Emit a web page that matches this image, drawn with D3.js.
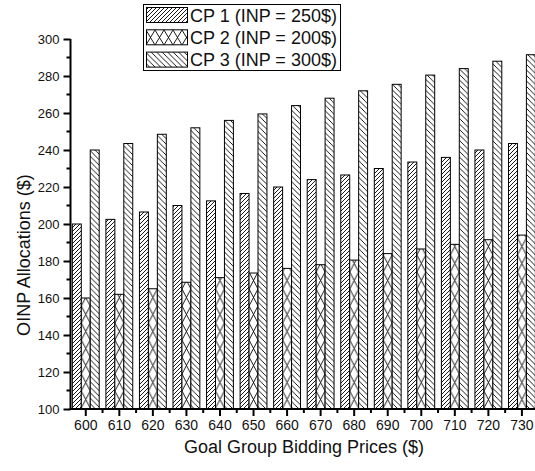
<!DOCTYPE html>
<html><head><meta charset="utf-8">
<script src="https://cdn.jsdelivr.net/npm/d3@7"></script>
<style>body{margin:0;background:#fff}svg{display:block}text{font-family:"Liberation Sans",Arial,sans-serif;fill:#111}</style>
</head><body><svg id="c" width="535" height="471"></svg>
<script>
const categories = [600,610,620,630,640,650,660,670,680,690,700,710,720,730];
const seriesNames = ["CP 1 (INP = 250$)", "CP 2 (INP = 200$)", "CP 3 (INP = 300$)"];
const cp1 = [200,202.5,206.5,210,212.5,216.5,220,224,226.5,230,233.5,236,240,243.5];
const cp2 = [160,162,165,168.5,171,173.5,176,178,180.5,184,186.5,189,191.5,194];
const cp3 = [240,243.5,248.5,252,256,259.5,264,268,272,275.5,280.5,284,288,291.5];
const yTicks = [100,120,140,160,180,200,220,240,260,280,300];
const series = [cp1, cp2, cp3];

const svg = d3.select("#c");
const defs = svg.append("defs");

const x = d3.scaleBand().domain(categories).range([69, 69 + 14*33.55]).paddingInner(0.2).paddingOuter(0.1);
const xs = d3.scaleBand().domain([0,1,2]).range([0, x.bandwidth()]);
const y = d3.scaleLinear().domain([100,300]).range([409,39]);

function hatch(id, w, h, paths, tx) {
  const p = defs.append("pattern").attr("id", id).attr("patternUnits","userSpaceOnUse")
    .attr("width", w).attr("height", h);
  if (tx !== undefined) p.attr("patternTransform", `translate(${tx},0)`);
  p.append("rect").attr("width", w).attr("height", h).attr("fill","#fff");
  paths.forEach(d => p.append("path").attr("d", d).attr("stroke","#000").attr("stroke-width",0.9).attr("fill","none"));
  return id;
}
// CP1: forward slash
hatch("p0", 4, 4, ["M-1,1 L1,-1 M0,4 L4,0 M3,5 L5,3"]);
// CP3: back slash
hatch("p2", 5.5, 5.5, ["M-1,4.5 L1,6.5 M0,0 L5.5,5.5 M4.5,-1 L6.5,1"]);

const g = svg.append("g");
series.forEach((vals, si) => {
  g.selectAll(null).data(categories).enter().append("rect")
    .attr("x", d => x(d) + xs(si))
    .attr("y", (d,i) => y(vals[i]))
    .attr("width", xs.bandwidth())
    .attr("height", (d,i) => y(100) - y(vals[i]))
    .attr("fill", (d,i) => {
      if (si === 1) {
        const bx = x(d) + xs(si);
        const bw = xs.bandwidth();
        return "url(#" + hatch("pc"+i, bw, bw*1.9, [`M0,0 L${bw},${bw*1.9} M${bw},0 L0,${bw*1.9}`], bx) + ")";
      }
      return "url(#p" + si + ")";
    })
    .attr("stroke","#000").attr("stroke-width",1);
});

// Y axis
const yAxis = d3.axisLeft(y).tickValues(yTicks).tickSize(7).tickPadding(4).tickFormat(d3.format("d"));
const ya = svg.append("g").attr("transform","translate(70.5,0)").call(yAxis);
ya.select(".domain").attr("stroke-width",2).attr("d","M0,409V39");
ya.selectAll(".tick line").attr("stroke-width",2);
ya.selectAll("text").style("font-size","13px");
const yMinor = d3.range(110, 300, 20);
ya.selectAll(".minor").data(yMinor).enter().append("line").attr("class","minor")
  .attr("x1",-4).attr("x2",0).attr("y1",d=>y(d)).attr("y2",d=>y(d)).attr("stroke","#000").attr("stroke-width",2);

// X axis
const xAxis = d3.axisBottom(x).tickSize(7).tickPadding(4).tickSizeOuter(0);
const xa = svg.append("g").attr("transform","translate(0,409)").call(xAxis);
xa.select(".domain").attr("stroke-width",2).attr("d","M69.5,0H535");
xa.selectAll(".tick line").attr("stroke-width",2);
xa.selectAll("text").style("font-size","14px");
const step = x.step();
xa.selectAll(".minor").data(categories).enter().append("line").attr("class","minor")
  .attr("x1",d=>x(d)+x.bandwidth()/2+step/2).attr("x2",d=>x(d)+x.bandwidth()/2+step/2)
  .attr("y1",0).attr("y2",4).attr("stroke","#000").attr("stroke-width",2);

// Titles
svg.append("text").attr("x",304).attr("y",453).attr("text-anchor","middle").style("font-size","18px")
  .text("Goal Group Bidding Prices ($)");
svg.append("text").attr("transform","translate(30,255) rotate(-90)").attr("text-anchor","middle").style("font-size","18px")
  .text("OINP Allocations ($)");

// Legend
const lg = svg.append("g");
lg.append("rect").attr("x",143.5).attr("y",4.5).attr("width",197).attr("height",66).attr("fill","#fff").attr("stroke","#000").attr("stroke-width",1);
seriesNames.forEach((n, i) => {
  const yy = 7 + i*22.3;
  let fill = "url(#p" + i + ")";
  if (i === 1) fill = "url(#" + hatch("plg", 9, 15, ["M0,0 L9,15 M9,0 L0,15"], 146) + ")";
  lg.append("rect").attr("x",146.5).attr("y",yy+0.5).attr("width",41).attr("height",15).attr("fill",fill).attr("stroke","#000").attr("stroke-width",1);
  lg.append("text").attr("x",190).attr("y",yy+14.5).style("font-size","18px").text(n);
});
</script></body></html>
